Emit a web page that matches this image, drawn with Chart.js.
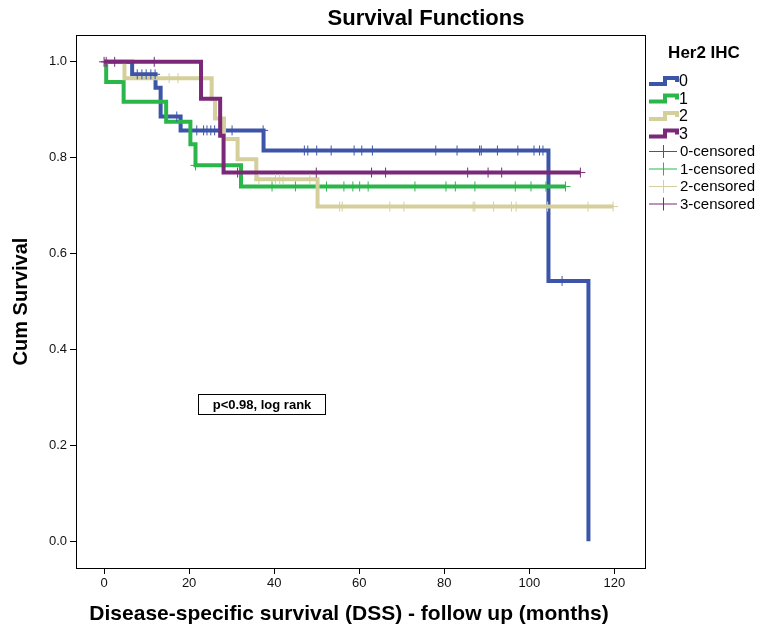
<!DOCTYPE html>
<html>
<head>
<meta charset="utf-8">
<script src="https://cdn.jsdelivr.net/npm/chart.js@4.4.1/dist/chart.umd.min.js"></script>
<style>
  html, body { margin: 0; padding: 0; background: #fff; }
</style>
</head>
<body>
<canvas id="km" width="759" height="630"></canvas>
<script>
// Her2 IHC groups
const groupNames = ['0', '1', '2', '3'];
const groupColours = ['#3d55a8', '#2bb64a', '#d5cf9b', '#7b2879'];

// step points: time of each drop (months) and survival after it
const her0Times = [0, 6.6, 12.1, 13.3, 18.0, 37.5, 104.5, 113.9];
const her0Surv = [1, 0.974, 0.946, 0.886, 0.857, 0.815, 0.543, 0];
const her0End = 113.9;
const her0Censored = [7.8, 8.9, 9.9, 11.0, 12.0, 17.1, 21.8, 23.4, 24.2, 25.1, 26.0, 30.1, 37.4,
    47.1, 47.9, 50.0, 53.4, 58.8, 60.6, 63.1, 78.0, 83.0, 88.3, 88.7, 92.5, 97.3, 101.1, 102.4, 103.2, 107.7];

const her1Times = [0, 0.5, 4.6, 14.6, 20.3, 21.5, 32.2];
const her1Surv = [1, 0.958, 0.917, 0.875, 0.828, 0.784, 0.740];
const her1End = 108.5;
const her1Censored = [21.5, 39.5, 45.0, 52.3, 56.4, 58.5, 60.1, 62.1, 73.1, 80.4, 82.6, 87.2, 96.7, 100.4, 103.9, 108.5];

const her2Times = [0, 4.8, 25.3, 26.1, 28.2, 31.4, 35.8, 50.2];
const her2Surv = [1, 0.966, 0.922, 0.882, 0.839, 0.797, 0.755, 0.698];
const her2End = 119.7;
const her2Censored = [15.3, 17.4, 36.4, 40.3, 41.3, 42.1, 48.4, 55.4, 56.0, 67.2, 70.5, 86.8, 87.2, 91.6,
    95.8, 96.9, 104.3, 113.8, 119.7];

const her3Times = [0, 22.8, 27.3, 28.1];
const her3Surv = [1, 0.923, 0.846, 0.769];
const her3End = 112.0;
const her3Censored = [0, 0.5, 2.5, 11.8, 31.4, 49.9, 62.9, 66.2, 85.5, 90.3, 93.5, 112.0];

const xTicks = [0, 20, 40, 60, 80, 100, 120];
const yTicks = [0, 0.2, 0.4, 0.6, 0.8, 1.0];

const groupData = [
    { times: her0Times, surv: her0Surv, end: her0End, censored: her0Censored },
    { times: her1Times, surv: her1Surv, end: her1End, censored: her1Censored },
    { times: her2Times, surv: her2Surv, end: her2End, censored: her2Censored },
    { times: her3Times, surv: her3Surv, end: her3End, censored: her3Censored },
];

const FONT = 'Liberation Sans, Arial, sans-serif';

// survival value of the step curve at time t (censor marks sit on the curve)
function survAt(g, t) {
    let s = g.surv[0];
    g.times.forEach((time, i) => {
        if (time <= t) s = g.surv[i];
    });
    return s;
}

function stepPoints(g) {
    const pts = g.times.map((t, i) => ({ x: t, y: g.surv[i] }));
    const last = g.times[g.times.length - 1];
    if (g.end > last) pts.push({ x: g.end, y: g.surv[g.surv.length - 1] });
    return pts;
}

const datasets = [];
// censor marks above the lines
groupData.forEach((g, i) => {
    datasets.push({
        label: groupNames[i] + '-censored',
        data: g.censored.map(t => ({ x: t, y: survAt(g, t) })),
        showLine: false,
        pointStyle: 'cross',
        pointRadius: 5,
        pointBorderWidth: 1,
        pointBorderColor: groupColours[i],
        pointBackgroundColor: groupColours[i],
        order: 0,
    });
});
// SPSS draws group 3 on top, so reverse for the step lines
[3, 2, 1, 0].forEach(i => {
    datasets.push({
        label: groupNames[i],
        data: stepPoints(groupData[i]),
        stepped: 'before',
        borderColor: groupColours[i],
        borderWidth: 4,
        pointRadius: 0,
        fill: false,
        order: 1,
    });
});

const decorPlugin = {
    id: 'decor',
    afterDraw(chart) {
        const { ctx, chartArea: a, scales: { x, y } } = chart;
        ctx.save();

        // frame around plot area
        ctx.strokeStyle = '#000';
        ctx.lineWidth = 1;
        ctx.strokeRect(Math.round(a.left) + 0.5, Math.round(a.top) + 0.5,
            Math.round(a.right - a.left), Math.round(a.bottom - a.top));

        // title and x title (SPSS centres them off the plot area)
        ctx.fillStyle = '#000';
        ctx.textAlign = 'center';
        ctx.textBaseline = 'middle';
        ctx.font = 'bold 22px ' + FONT;
        ctx.fillText('Survival Functions', 426, 19);
        ctx.font = 'bold 21px ' + FONT;
        ctx.fillText('Disease-specific survival (DSS) - follow up (months)', 349, 614);

        // p-value box
        const bx = Math.round(x.getPixelForValue(22.2)) + 0.5;
        const by = Math.round(y.getPixelForValue(0.306)) + 0.5;
        ctx.strokeRect(bx, by, 127, 20);
        ctx.font = 'bold 13px ' + FONT;
        ctx.fillText('p<0.98, log rank', bx + 63.5, by + 10.5);

        // legend
        ctx.font = 'bold 17px ' + FONT;
        ctx.fillText('Her2 IHC', 704, 53);
        ctx.textAlign = 'left';
        const rowY = [81, 98.5, 116, 133.5, 151, 168.5, 186, 203.5];
        groupNames.forEach((name, i) => {
            const yy = rowY[i];
            ctx.strokeStyle = groupColours[i];
            ctx.lineWidth = 4;
            ctx.lineJoin = 'miter';
            ctx.beginPath();
            ctx.moveTo(649, yy + 3);
            ctx.lineTo(665, yy + 3);
            ctx.lineTo(665, yy - 3);
            ctx.lineTo(677, yy - 3);
            ctx.lineTo(677, yy + 1);
            ctx.stroke();
            ctx.fillStyle = '#000';
            ctx.font = '16px ' + FONT;
            ctx.fillText(name, 679, yy + 1);
        });
        groupNames.forEach((name, i) => {
            const yy = rowY[4 + i];
            ctx.strokeStyle = groupColours[i];
            ctx.lineWidth = 1;
            ctx.beginPath();
            ctx.moveTo(649, yy + 0.5);
            ctx.lineTo(677, yy + 0.5);
            ctx.moveTo(663.5, yy - 6);
            ctx.lineTo(663.5, yy + 7);
            ctx.stroke();
            ctx.fillStyle = '#000';
            ctx.font = '15px ' + FONT;
            ctx.fillText(name + '-censored', 680, yy + 1);
        });
        ctx.restore();
    },
};

new Chart(document.getElementById('km').getContext('2d'), {
    type: 'line',
    data: { datasets },
    options: {
        responsive: false,
        animation: false,
        events: [],
        layout: { padding: { top: 35, right: 114, left: 0, bottom: 0 } },
        scales: {
            x: {
                type: 'linear',
                min: -6.6,
                max: 127.2,
                afterBuildTicks: scale => { scale.ticks = xTicks.map(v => ({ value: v })); },
                afterFit: scale => { scale.height = 62; },
                border: { display: false },
                grid: { drawOnChartArea: false, drawTicks: true, tickLength: 6, color: '#000' },
                ticks: { color: '#111', font: { family: FONT, size: 13 }, padding: 2, maxRotation: 0 },
                title: { display: false },
            },
            y: {
                type: 'linear',
                min: -0.056,
                max: 1.056,
                afterBuildTicks: scale => { scale.ticks = yTicks.map(v => ({ value: v })); },
                afterFit: scale => { scale.width = 76; },
                border: { display: false },
                grid: { drawOnChartArea: false, drawTicks: true, tickLength: 6, color: '#000' },
                ticks: {
                    color: '#111',
                    font: { family: FONT, size: 13 },
                    padding: 3,
                    callback: v => v.toFixed(1),
                },
                title: {
                    display: true,
                    text: 'Cum Survival',
                    color: '#000',
                    font: { family: FONT, size: 20, weight: 'bold' },
                    padding: { top: 9, bottom: 0 },
                },
            },
        },
        plugins: {
            legend: { display: false },
            tooltip: { enabled: false },
        },
    },
    plugins: [decorPlugin],
});
</script>
</body>
</html>
